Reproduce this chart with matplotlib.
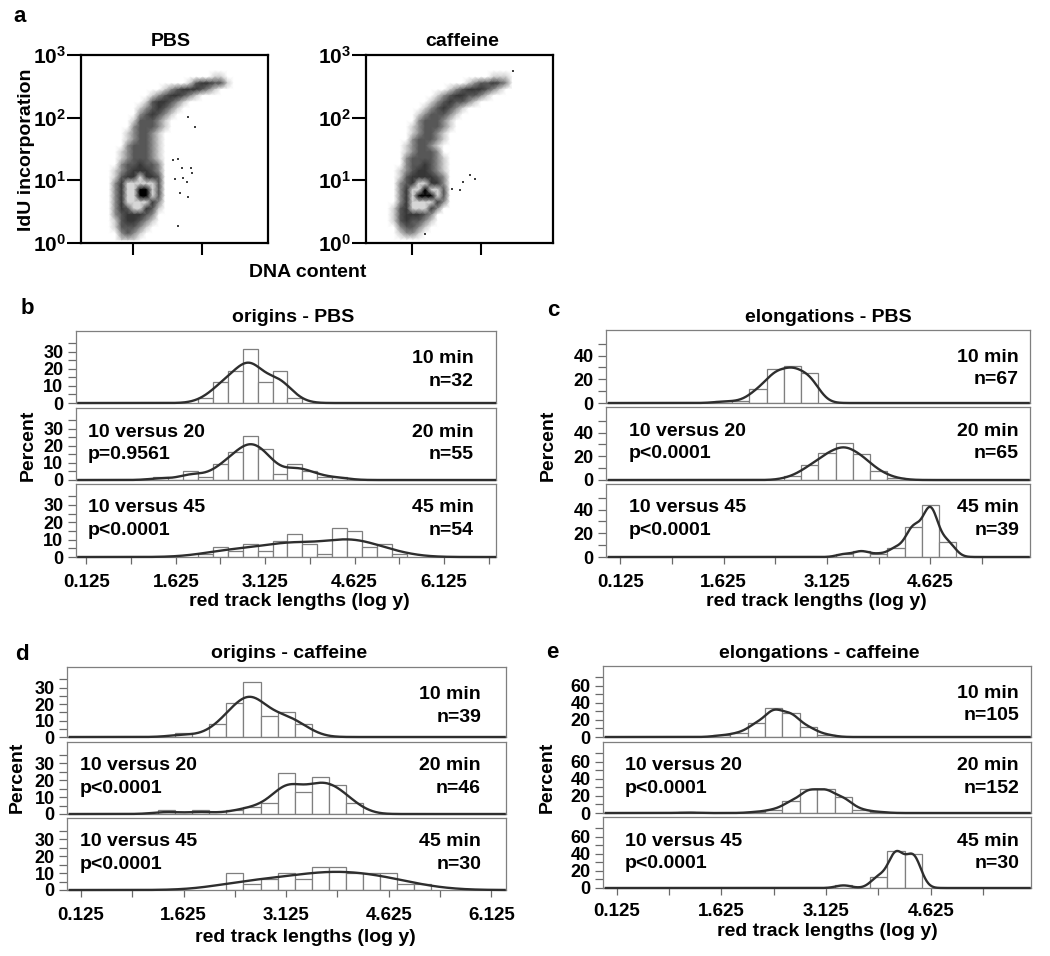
import numpy as np
import matplotlib.pyplot as plt
from matplotlib.colors import ListedColormap
from matplotlib.ticker import NullLocator

plt.rcParams['font.family'] = ['Liberation Sans', 'DejaVu Sans']
plt.rcParams['font.weight'] = 'bold'
plt.rcParams['mathtext.fontset'] = 'custom'
plt.rcParams['mathtext.rm'] = 'Liberation Sans:bold'
plt.rcParams['mathtext.bf'] = 'Liberation Sans:bold'

# ---- panel a: IdU incorporation vs DNA content ----
# density on a 30 x 30 grid (row 0 = top, 10^3)
# levels: ' ' none, '.' very sparse, '-' sparse, '+' medium, '#' dense, 'o' light ring, '@' core
levels = ' .-+#o@'
pbs_density = [
    (3, 21, '..'), (4, 17, '.+##++.'), (5, 13, '.-+###+-.'), (6, 11, '.-+##+-.'),
    (7, 10, '.+##+-.'), (8, 9, '.-+#+-.'), (9, 9, '-+#+-.'), (10, 8, '.+++-.'),
    (11, 8, '-+++-.'), (12, 7, '.-++-.'), (13, 7, '.-++-.'), (14, 7, '-+++-.'),
    (15, 6, '.-+++-.'), (16, 6, '.-+++-.'), (17, 6, '-++#++-'), (18, 5, '.-+###+-'),
    (19, 5, '.+##o##+'), (20, 5, '-#ooooo+'), (21, 5, '-#oo@@o+'), (22, 5, '-#oo@@o+'),
    (23, 5, '-#oooo#-'), (24, 5, '-#+oo#+.'), (25, 5, '-+###+-'), (26, 5, '.+##+-.'),
    (27, 5, '.+++-.'), (28, 6, '-+-.'), (29, 6, '...'),
]
caf_density = [
    (3, 20, '...'), (4, 16, '.-++#+-'), (5, 13, '.-+###+-.'), (6, 11, '.-+##++-.'),
    (7, 10, '.-+#++-.'), (8, 9, '.-+#+-.'), (9, 8, '.-+++-.'), (10, 8, '-+++-.'),
    (11, 7, '.-+++-.'), (12, 7, '.-++-.'), (13, 7, '-+++-.'), (14, 6, '.-++-.'),
    (15, 6, '.-+++-'), (16, 6, '-++++-.'), (17, 6, '-++#+-.'), (18, 5, '.-+##+-.'),
    (19, 5, '.+####+-'), (20, 5, '-+#oo##-'), (21, 5, '-#oo@oo+'), (22, 5, '-#o@@@o+'),
    (23, 5, '-#oooo#-'), (24, 4, '.+#ooo#-'), (25, 4, '.+###+-'), (26, 4, '.+#++-.'),
    (27, 5, '-++-.'), (28, 5, '.--.'),
]
pbs_out_x = [130, 147, 152, 143, 126, 136, 123, 135, 148, 142, 132, 143, 130]
pbs_out_y = [22, 16, 71, 102, 10.5, 11, 21, 16, 13, 9.3, 6.2, 5.4, 1.9]
caf_out_x = [196, 139, 146, 130, 115, 126, 79]
caf_out_y = [553, 12, 10.5, 9.3, 7.3, 7, 1.4]
dna_ticks_pbs = [70, 162]
dna_ticks_caf = [62, 154]
idu_ticks = [1, 10, 100, 1000]
idu_labels = [r'$\mathbf{10^{0}}$', r'$\mathbf{10^{1}}$', r'$\mathbf{10^{2}}$', r'$\mathbf{10^{3}}$']

# ---- panels b-e: percent of tracks per 0.25 bin of red track length (log y) ----
bin_w = 0.25
times = ['10 min', '20 min', '45 min']
versus = ['10 versus 20', '10 versus 45']

b_start = [2.0, 1.25, 2.0]
b_counts = [[1, 4, 6, 10, 4, 6, 1],
            [1, 0, 3, 1, 5, 9, 14, 10, 2, 5, 3, 1, 1],
            [1, 3, 2, 4, 2, 5, 7, 4, 1, 9, 8, 3, 4, 1]]
b_pvals = ['p=0.9561', 'p<0.0001']

c_start = [1.5, 2.5, 3.25]
c_counts = [[1, 1, 8, 19, 21, 17],
            [2, 8, 15, 20, 14, 5, 1],
            [1, 2, 1, 3, 10, 17, 5]]
c_pvals = ['p<0.0001', 'p<0.0001']

d_start = [1.5, 1.25, 2.25]
d_counts = [[1, 0, 3, 8, 13, 5, 6, 3],
            [1, 0, 1, 0, 1, 2, 3, 11, 6, 10, 8, 3],
            [3, 1, 2, 3, 2, 4, 4, 3, 3, 3, 1, 1]]
d_pvals = ['p<0.0001', 'p<0.0001']

e_start = [1.5, 1.0, 3.25]
e_counts = [[2, 5, 17, 36, 30, 12, 3],
            [1, 0, 0, 0, 2, 6, 21, 43, 43, 28, 6, 2],
            [1, 0, 4, 13, 12]]
e_pvals = ['p<0.0001', 'p<0.0001']

W, H = 1050, 956
fig = plt.figure(figsize=(W / 100, H / 100), dpi=100)


def add_ax(x0, y0, x1, y1):
    return fig.add_axes([x0 / W, 1 - y1 / H, (x1 - x0) / W, (y1 - y0) / H])


def put(x, y, s, size=14, **kw):
    kw.setdefault('ha', 'center')
    kw.setdefault('va', 'center')
    fig.text(x / W, 1 - y / H, s, fontsize=size, **kw)


# panel a
cmap = ListedColormap(['#ffffff', '#cfcfcf', '#8c8c8c', '#575757', '#363636', '#d6d6d6', '#000000'])
gx = (np.arange(30) + 0.5) * 250 / 30
gy = 10 ** (3 * (1 - (np.arange(30) + 0.5) / 30))

flow = [('PBS', pbs_density, pbs_out_x, pbs_out_y, dna_ticks_pbs, 81, 171),
        ('caffeine', caf_density, caf_out_x, caf_out_y, dna_ticks_caf, 366, 462)]
for title, rows, ox, oy, xt, x0, tx in flow:
    z = np.zeros((30, 30))
    for r, c0, s in rows:
        for i, ch in enumerate(s):
            z[r, c0 + i] = levels.index(ch)
    ax = add_ax(x0, 55, x0 + 187, 243)
    ax.pcolormesh(gx, gy, z, shading='gouraud', cmap=cmap, vmin=-0.5, vmax=6.5)
    ax.scatter(ox, oy, s=3, marker='s', color='#404040', linewidths=0)
    ax.set_xlim(0, 250)
    ax.set_yscale('log')
    ax.set_ylim(1, 1000)
    ax.set_xticks(xt)
    ax.set_xticklabels([])
    ax.set_yticks(idu_ticks)
    ax.set_yticklabels(idu_labels, fontsize=15)
    ax.yaxis.set_minor_locator(NullLocator())
    ax.tick_params(axis='y', length=10, width=1.5, pad=1)
    ax.tick_params(axis='x', length=8.5, width=1.5)
    for sp in ax.spines.values():
        sp.set_linewidth(1.6)
    put(tx, 42, title)

put(20, 17, 'a', size=16)
put(27, 150, 'IdU incorporation', rotation=90)
put(308, 272, 'DNA content')

# panels b-e
panels = [
    dict(letter='b', title='origins - PBS', start=b_start, counts=b_counts, pvals=b_pvals,
         bw=[0.2, 0.2, 0.4], x=(76, 496), rows=[(331, 403), (408, 480), (484, 557)],
         xlim=(-0.05, 7.0), ymax=42, ystep=5, ylab=10, pad=7.5,
         letter_xy=(27, 309), title_xy=(293, 318), pct_xy=(28, 445), xlab_xy=(299, 601),
         right=474, left=88),
    dict(letter='c', title='elongations - PBS', start=c_start, counts=c_counts, pvals=c_pvals,
         bw=[0.15, 0.16, 0.11], x=(606, 1030), rows=[(330, 403), (407, 480), (484, 557)],
         xlim=(-0.08, 6.07), ymax=61.5, ystep=10, ylab=20, pad=7.5,
         letter_xy=(553, 311), title_xy=(828, 318), pct_xy=(548, 445), xlab_xy=(816, 601),
         right=1019, left=629),
    dict(letter='d', title='origins - caffeine', start=d_start, counts=d_counts, pvals=d_pvals,
         bw=[0.21, 0.2, 0.45], x=(67, 506), rows=[(667, 737), (742, 814), (818, 890)],
         xlim=(-0.08, 6.34), ymax=42.5, ystep=5, ylab=10, pad=7.5,
         letter_xy=(22, 654), title_xy=(289, 653), pct_xy=(17, 777), xlab_xy=(305, 938),
         right=481, left=80),
    dict(letter='e', title='elongations - caffeine', start=e_start, counts=e_counts, pvals=e_pvals,
         bw=[0.13, 0.13, 0.11], x=(603, 1031), rows=[(666, 737), (742, 813), (817, 888)],
         xlim=(-0.07, 6.06), ymax=83, ystep=10, ylab=20, pad=6,
         letter_xy=(552, 652), title_xy=(819, 653), pct_xy=(547, 777), xlab_xy=(827, 932),
         right=1019, left=625),
]

for P in panels:
    x0, x1 = P['x']
    for i, (y0, y1) in enumerate(P['rows']):
        ax = add_ax(x0, y0, x1, y1)
        counts = np.array(P['counts'][i], dtype=float)
        n = int(counts.sum())
        edges = P['start'][i] + bin_w * np.arange(len(counts))
        ax.bar(edges, 100 * counts / n, width=bin_w, align='edge', facecolor='white',
               edgecolor='#7f7f7f', linewidth=0.9, zorder=2)
        # kernel density of the same tracks, scaled to percent per bin
        xs = np.linspace(P['xlim'][0] + 0.04, P['xlim'][1] - 0.02, 800)
        centers = edges + bin_w / 2
        h = P['bw'][i]
        dens = (counts[:, None] * np.exp(-0.5 * ((xs[None, :] - centers[:, None]) / h) ** 2)).sum(0)
        dens /= n * h * np.sqrt(2 * np.pi)
        ax.plot(xs, 100 * bin_w * dens, color='#2e2e2e', lw=1.7, clip_on=False, zorder=3)

        ax.set_xlim(*P['xlim'])
        ax.set_ylim(0, P['ymax'])
        yt = np.arange(0, P['ymax'] - 4, P['ystep'])
        ax.set_yticks(yt)
        ax.set_yticklabels(['%d' % v if v % P['ylab'] == 0 else '' for v in yt], fontsize=13)
        ax.tick_params(axis='y', length=6, width=0.9, color='#6a6a6a', pad=3)
        for sp in ax.spines.values():
            sp.set_color('#7f7f7f')
            sp.set_linewidth(0.9)
        if i == 2:
            xt = np.arange(0.125, P['xlim'][1], 0.75)
            ax.set_xticks(xt)
            ax.set_xticklabels(['%.3f' % v if k % 2 == 0 else '' for k, v in enumerate(xt)],
                               fontsize=13.5)
            ax.tick_params(axis='x', length=5, width=0.9, color='#6a6a6a', pad=P['pad'])
        else:
            ax.set_xticks([])

        l1 = y0 + (27.5 if i == 0 else 24)
        l2 = y0 + (50 if i == 0 else 46.5)
        put(P['right'], l1, times[i], ha='right')
        put(P['right'], l2, 'n=%d' % n, ha='right')
        if i > 0:
            put(P['left'], l1, versus[i - 1], ha='left')
            put(P['left'], l2, P['pvals'][i - 1], ha='left')

    put(*P['letter_xy'], P['letter'], size=16)
    put(*P['title_xy'], P['title'])
    put(*P['pct_xy'], 'Percent', rotation=90)
    put(*P['xlab_xy'], 'red track lengths (log y)')

fig.savefig('out.png', dpi=100)
